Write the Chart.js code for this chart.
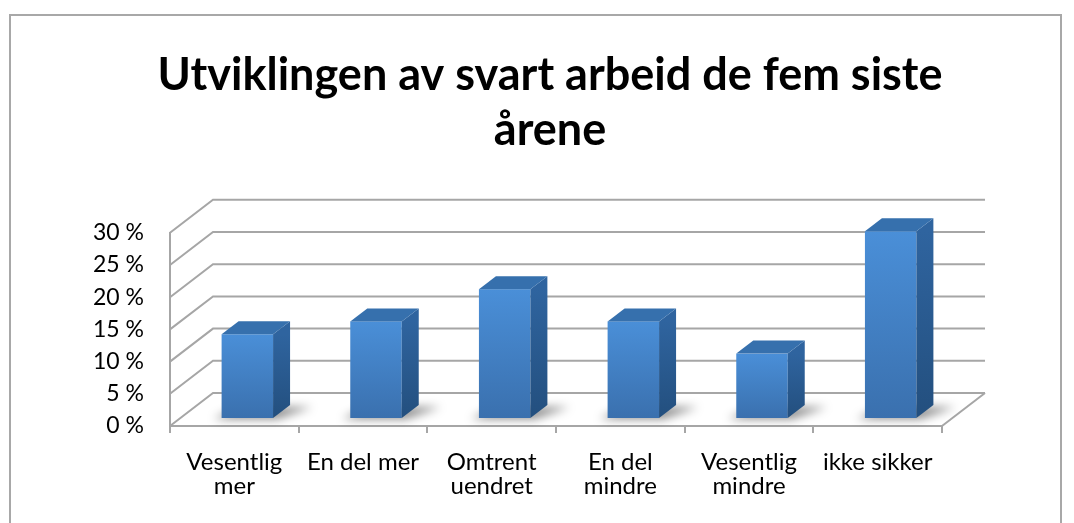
<!DOCTYPE html>
<html>
<head>
<meta charset="utf-8">
<script src="https://cdn.jsdelivr.net/npm/chart.js@4.4.1/dist/chart.umd.min.js"></script>
<style>
  html, body { margin: 0; padding: 0; background: #fff; overflow: hidden; }
  #frame { position: absolute; left: 9px; top: 14px; width: 1049px; height: 600px; border: 2px solid #a8a8a8; }
  #wrap { position: absolute; left: 0; top: 0; width: 1074px; height: 523px; }
</style>
</head>
<body>
<div id="frame"></div>
<div id="wrap"><canvas id="chart" width="1074" height="523"></canvas></div>
<script>
// === Data ===
const titleLines = ['Utviklingen av svart arbeid de fem siste', 'årene'];
const categories = [['Vesentlig', 'mer'], 'En del mer', ['Omtrent', 'uendret'], ['En del', 'mindre'], ['Vesentlig', 'mindre'], 'ikke sikker'];
const shares = [13, 15, 20, 15, 10, 29];
const yTicks = [0, 5, 10, 15, 20, 25, 30];

// === 3D look ===
const DX = 43, DY = 33;   // wall depth
const BX = 13, BY = 8;    // bar front offset from the front plane
const SX = 17, SY = 13;   // bar depth
const gridColor = '#a6a6a6';

const walls3d = {
  id: 'walls3d',
  beforeDatasetsDraw(chart) {
    const { ctx, chartArea: { left, right, bottom }, scales: { y } } = chart;
    ctx.save();
    ctx.strokeStyle = gridColor;
    ctx.lineWidth = 2;
    yTicks.forEach(v => {
      const py = y.getPixelForValue(v);
      ctx.beginPath();
      ctx.moveTo(left, py);
      ctx.lineTo(left + DX, py - DY);
      ctx.lineTo(right + DX, py - DY);
      ctx.stroke();
    });
    ctx.beginPath();
    ctx.moveTo(right, bottom);
    ctx.lineTo(right + DX, bottom - DY);
    ctx.stroke();
    ctx.restore();
  }
};

const bars3d = {
  id: 'bars3d',
  afterDatasetsDraw(chart) {
    const { ctx } = chart;
    const meta = chart.getDatasetMeta(0);
    meta.data.forEach(bar => {
      const { x, y, base, width } = bar.getProps(['x', 'y', 'base', 'width'], true);
      const x0 = x - width / 2 + BX, x1 = x + width / 2 + BX;
      const yTop = y - BY, yBot = base - BY;

      // soft shadow on the floor
      ctx.save();
      ctx.filter = 'blur(5px)';
      ctx.fillStyle = 'rgba(0,0,0,0.45)';
      ctx.beginPath();
      ctx.moveTo(x0 - 8, yBot + 1);
      ctx.lineTo(x1 + 4, yBot + 1);
      ctx.lineTo(x1 + SX + 22, yBot - SY + 2);
      ctx.lineTo(x0 + SX, yBot - SY + 2);
      ctx.closePath();
      ctx.fill();
      ctx.restore();

      ctx.save();
      // front
      const gFront = ctx.createLinearGradient(0, yTop, 0, yBot);
      gFront.addColorStop(0, '#4a8fd8');
      gFront.addColorStop(1, '#3a70ae');
      ctx.fillStyle = gFront;
      ctx.fillRect(x0, yTop, x1 - x0, yBot - yTop);
      // side
      const gSide = ctx.createLinearGradient(0, yTop, 0, yBot);
      gSide.addColorStop(0, '#2f649f');
      gSide.addColorStop(1, '#234f7e');
      ctx.fillStyle = gSide;
      ctx.beginPath();
      ctx.moveTo(x1, yTop);
      ctx.lineTo(x1 + SX, yTop - SY);
      ctx.lineTo(x1 + SX, yBot - SY);
      ctx.lineTo(x1, yBot);
      ctx.closePath();
      ctx.fill();
      // top
      ctx.fillStyle = '#3670ad';
      ctx.beginPath();
      ctx.moveTo(x0, yTop);
      ctx.lineTo(x0 + SX, yTop - SY);
      ctx.lineTo(x1 + SX, yTop - SY);
      ctx.lineTo(x1, yTop);
      ctx.closePath();
      ctx.fill();
      ctx.restore();
    });
  }
};

const ctx = document.getElementById('chart').getContext('2d');
new Chart(ctx, {
  type: 'bar',
  data: {
    labels: categories,
    datasets: [{
      label: 'Andel',
      data: shares,
      backgroundColor: 'rgba(0,0,0,0)',
      borderWidth: 0,
      categoryPercentage: 1,
      barPercentage: 0.4
    }]
  },
  options: {
    responsive: false,
    animation: false,
    // left padding nudges the centred title to the right, as in the original
    layout: { padding: { left: 26, right: 0, top: 0, bottom: 0 } },
    plugins: {
      legend: { display: false },
      tooltip: { enabled: false },
      title: {
        display: true,
        text: titleLines,
        color: '#000',
        font: { family: 'Lato', size: 45, weight: 'bold', lineHeight: 1.22 },
        padding: { top: 48, bottom: 75 }
      }
    },
    scales: {
      y: {
        min: 0,
        max: 30,
        afterFit: s => { s.width = 144; },
        ticks: {
          stepSize: 5,
          color: '#000',
          font: { family: 'Lato', size: 23 },
          padding: 18,
          callback: v => v + ' %'
        },
        grid: { display: false },
        border: { display: true, color: gridColor, width: 2 }
      },
      // empty right margin so the plot ends where the original does
      yr: {
        position: 'right',
        afterFit: s => { s.width = 132; },
        ticks: { display: false },
        grid: { display: false },
        border: { display: false }
      },
      x: {
        afterFit: s => { s.height = 97; },
        ticks: {
          color: '#000',
          font: { family: 'Lato', size: 24, lineHeight: 0.98 },
          padding: 18,
          maxRotation: 0,
          autoSkip: false
        },
        grid: { display: true, offset: true, drawOnChartArea: false, tickLength: 7, color: gridColor, lineWidth: 2 },
        border: { display: true, color: gridColor, width: 2 }
      }
    }
  },
  plugins: [walls3d, bars3d]
});
</script>
</body>
</html>
